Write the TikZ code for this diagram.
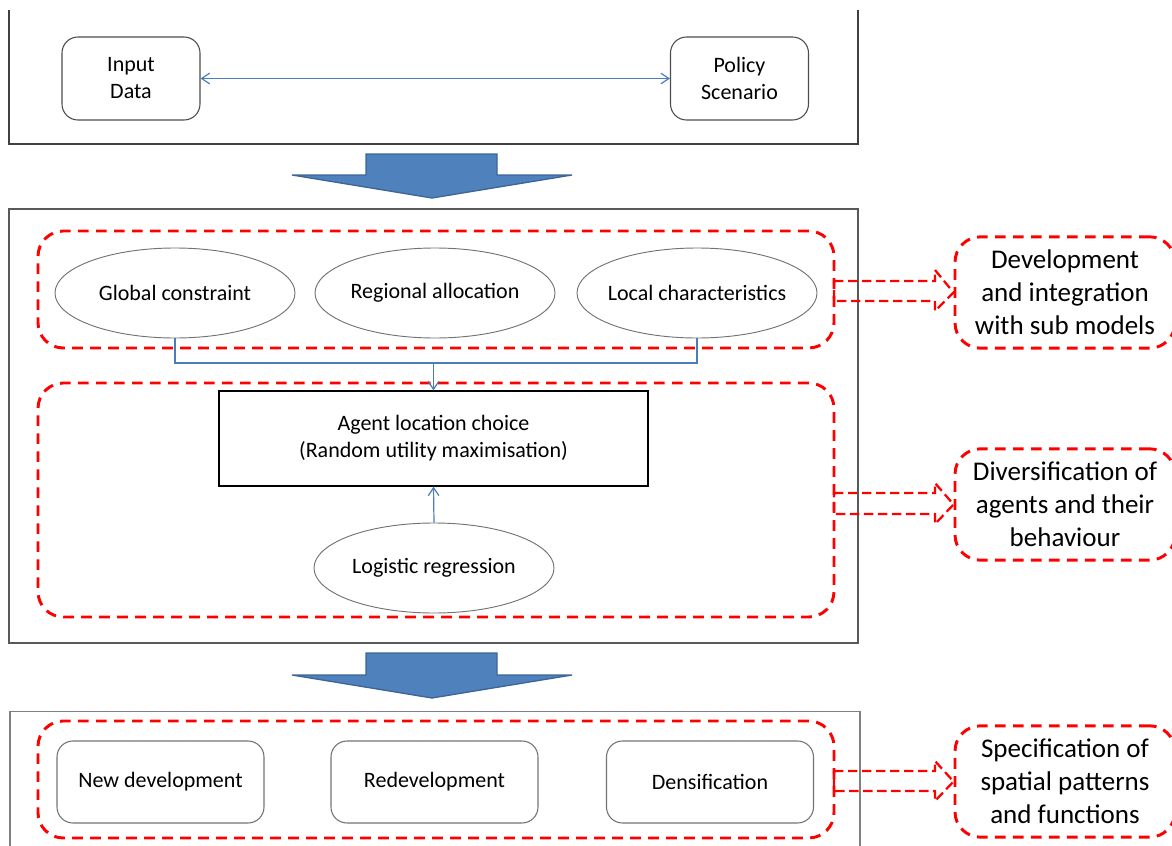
\documentclass[tikz,border=0pt]{standalone}
\usepackage{fontspec}
\setmainfont{Carlito}
\usetikzlibrary{arrows.meta,shapes.geometric,calc}
\definecolor{arrowblue}{HTML}{4F81BD}
\definecolor{arrowedge}{HTML}{3C6696}
\definecolor{connblue}{HTML}{4A7EBB}
\definecolor{dred}{HTML}{FF0000}
\tikzset{
  lbl/.style={font=\fontsize{16.5}{20.25}\selectfont, align=center, text=black},
  rbl/.style={font=\fontsize{20.25}{24.75}\selectfont, align=center, text=black},
  rbox/.style={lbl, draw=black!70, line width=0.8pt, rounded corners=12pt, minimum width=103.5pt, minimum height=62.25pt},
  obox/.style={lbl, draw=black!55, line width=0.8pt, rounded corners=12pt, minimum width=155.25pt, minimum height=61.5pt},
  ell/.style={draw=black!55, line width=0.7pt, ellipse, minimum width=180pt, minimum height=67.5pt, inner sep=0pt, label={[lbl]center:#1}},
  grp/.style={draw=dred, line width=2.2pt, dash pattern=on 8pt off 5.5pt, rounded corners=19pt, minimum width=597pt},
  side/.style={rbl, draw=dred, line width=2.2pt, dash pattern=on 8pt off 5.5pt, rounded corners=19pt, minimum width=165pt, minimum height=83.5pt},
  darrow/.style={draw=dred, line width=1.7pt, dash pattern=on 7pt off 3.5pt},
  bigarrow/.style={fill=arrowblue, draw=arrowedge, line width=1pt, line join=miter},
  conn/.style={draw=connblue, line width=0.9pt},
  tip/.style={-{Straight Barb[length=6pt,width=8pt]}}
}
\begin{document}
\begin{tikzpicture}[x=0.75pt,y=-0.75pt]
\useasboundingbox (0,0) rectangle (1172,846);
% outer frames
\draw[draw=black!75, line width=0.9pt] (9,10) -- (9,144) -- (858,144) -- (858,10);
\node[draw=black!65, line width=0.9pt, minimum width=636.75pt, minimum height=325.5pt, inner sep=0pt] (mid) at (433.5,426) {};
\draw[draw=black!50, line width=0.9pt] (10,850) -- (10,711.5) -- (860,711.5) -- (860,850);

% top row
\node[rbox] (in) at (131,78.5) {Input\\Data};
\node[rbox] (pol) at (739.5,78.5) {Policy\\Scenario};
\draw[conn,{Straight Barb[length=6pt,width=8pt]}-{Straight Barb[length=6pt,width=8pt]}] (in.east) -- (pol.west);

% big arrows
\draw[bigarrow] (366,154) -- (497,154) -- (497,175) -- (572,175) -- (432,198) -- (292,175) -- (366,175) -- cycle;
\draw[bigarrow] (366,653) -- (497,653) -- (497,675) -- (572,675) -- (432,698) -- (292,675) -- (366,675) -- cycle;

% groups
\node[grp, minimum height=87.75pt] (g1) at (436,289.5) {};
\node[grp, minimum height=175.5pt] (g2) at (436,500) {};
\node[grp, minimum height=87.75pt] (g3) at (436,779.5) {};

% ellipses
\node[ell={Global constraint}] (gc) at (175,293) {};
\node[ell={Regional allocation}] (ra) at (435,293) {};
\node[ell={Local characteristics}] (lc) at (697,293) {};

\node[lbl, draw=black, line width=0.9pt, minimum width=321.75pt, minimum height=71.25pt] (agent) at (433.5,438.5) {Agent location choice\\(Random utility maximisation)};
\node[ell={Logistic regression}] (lr) at (434,568) {};

\coordinate (j) at (433.5,363);
\draw[conn] (gc.south) |- (j) -| (lc.south);
\draw[conn,tip] (j) -- (agent.north);
\draw[conn,tip] (lr.north) -- (agent.south);

% outputs
\node[obox] (nd) at (160.5,782) {New development};
\node[obox] (rd) at (434.5,782) {Redevelopment};
\node[obox] (ds) at (710,782) {Densification};

% side boxes
\node[side] (s1) at (1065,292.5) {Development\\and integration\\with sub models};
\node[side] (s2) at (1065,504.5) {Diversification of\\agents and their\\behaviour};
\node[side] (s3) at (1065,781.5) {Specification of\\spatial patterns\\and functions};

% dashed block arrows
\draw[darrow] (834,281) -- (935,281) -- (935,270) -- (s1.west) -- (935,311) -- (935,301) -- (834,301) -- cycle;
\draw[darrow] (834,493) -- (935,493) -- (935,483) -- (s2.west) -- (935,524) -- (935,514) -- (834,514) -- cycle;
\draw[darrow] (834,771) -- (935,771) -- (935,761) -- (s3.west) -- (935,801) -- (935,791) -- (834,791) -- cycle;
\end{tikzpicture}
\end{document}
